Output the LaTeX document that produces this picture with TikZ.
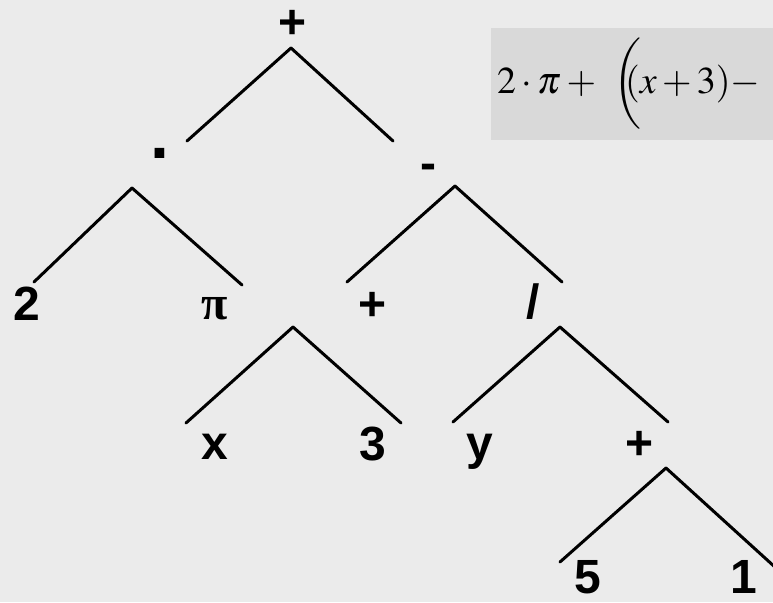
\documentclass[tikz,border=0pt]{standalone}
\usepackage{mathptmx}
\usepackage{fontspec}
\setmainfont{Liberation Sans}
\newfontfamily\symfont{Liberation Serif}
\definecolor{bggray}{RGB}{235,235,235}
\definecolor{boxgray}{RGB}{217,217,217}

\begin{document}
\begin{tikzpicture}[x=1pt,y=-1pt,
    lbl/.style={inner sep=0pt,anchor=base,font=\fontsize{48}{50}\selectfont\bfseries},
    branch/.style={line width=3pt,line cap=round}]
  \fill[bggray] (0,0) rectangle (773,602);
  \useasboundingbox (0,0) rectangle (773,602);
  \clip (0,0) rectangle (773,602);
  \fill[boxgray] (491,28) rectangle (780,140);
  \node[anchor=base west,inner sep=0pt,font=\fontsize{38}{40}\selectfont] (expr) at (497,93)
    {$\medmuskip=2.5mu 2\cdot\pi+\mkern6mu\left(\vphantom{\rule[-36pt]{0pt}{90pt}}\mkern-8mu(x+3)-\right.$};

  \node[lbl] (add1) at (293,39) {+};
  \node[lbl,font=\fontsize{68}{70}\selectfont\bfseries] (mul) at (160,158) {.};
  \node[lbl] (sub) at (428,179) {-};
  \node[lbl] (two) at (27,320) {2};
  \node[lbl,font=\fontsize{48}{50}\selectfont\symfont\bfseries] (pi) at (215,319) {π};
  \node[lbl] (add2) at (373,320) {+};
  \node[lbl] (div) at (533,318) {/};
  \node[lbl] (x) at (215,459) {x};
  \node[lbl] (three) at (373,460) {3};
  \node[lbl] (y) at (480,459) {y};
  \node[lbl] (add3) at (640,459) {+};
  \node[lbl] (five) at (588,593) {5};
  \node[lbl] (one) at (744,593) {1};

  \coordinate (t1) at (291,48);  \coordinate (t1l) at (187,141); \coordinate (t1r) at (393,141);
  \coordinate (t2) at (132,188); \coordinate (t2l) at (34,282);  \coordinate (t2r) at (242,285);
  \coordinate (t3) at (455,186); \coordinate (t3l) at (347,282); \coordinate (t3r) at (562,282);
  \coordinate (t4) at (293,327); \coordinate (t4l) at (186,423); \coordinate (t4r) at (401,423);
  \coordinate (t5) at (560,327); \coordinate (t5l) at (453,422); \coordinate (t5r) at (668,422);
  \coordinate (t6) at (666,468); \coordinate (t6l) at (560,562); \coordinate (t6r) at (776,568);

  \foreach \t in {t1,t2,t3,t4,t5,t6} {
    \draw[branch] (\t l) -- (\t);
    \draw[branch] (\t) -- (\t r);
  }
\end{tikzpicture}
\end{document}
